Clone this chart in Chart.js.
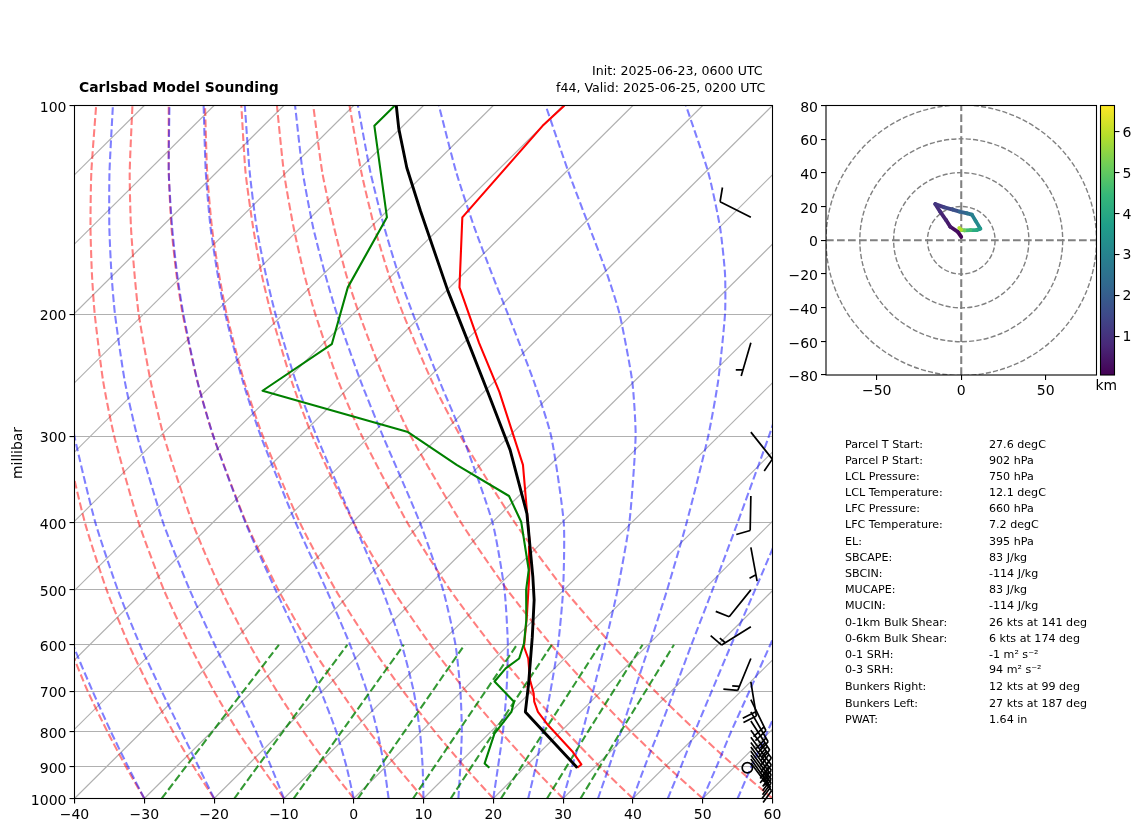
<!DOCTYPE html>
<html><head><meta charset="utf-8">
<style>
html,body{margin:0;padding:0;background:#fff;width:1142px;height:832px;overflow:hidden}
canvas{position:absolute;left:0;top:0}
.t{position:absolute;font-family:"DejaVu Sans";color:#000;white-space:pre;line-height:16px}
</style>
<script src="https://cdn.jsdelivr.net/npm/chart.js@4/dist/chart.umd.min.js"></script>
</head><body>
<canvas id="main" width="1142" height="832"></canvas>
<canvas id="hodo" width="1142" height="832"></canvas>
<canvas id="cbar" width="1142" height="832"></canvas>
<div id="texts"></div>
<script>
// ---------- sounding profiles (pressure in hPa, temperature in degC)
const tempP=[100,107,145,183,220,259,330,433,484,547,604,628,675,705,725,750,784,857,893,903];
const tempT=[-69.8,-70,-68.3,-58.6,-47.8,-37.8,-23.9,-11.1,-6.4,-1.4,2.5,4.8,8.2,10.6,11.9,13.9,17.3,24.7,27.7,27.6];
const dewP=[100,107,145,183,221,258,296,330,366,399,468,500,553,597,628,649,678,725,750,806,890,903];
const dewT=[-94.1,-94.1,-79.1,-74.6,-68.7,-71.9,-45.1,-33.4,-21.4,-15.9,-7.9,-5.4,-1,2,3.5,3,3.3,9,10.1,10.8,13.7,15];
const parcelP=[100,108,123,142,185,223,258,314,388,479,517,585,683,750,903];
const parcelT=[-93.9,-90.2,-83.4,-75.2,-59.8,-48.5,-39.7,-27.9,-16.3,-6.3,-2.8,2.3,8.5,12.1,27.6];
// ---------- reference curves
const xTicks=[-40,-30,-20,-10,0,10,20,30,40,50,60];
const pTicks=[100,200,300,400,500,600,700,800,900,1000];
const isotherms=[-130,-120,-110,-100,-90,-80,-70,-60,-50,-40,-30,-20,-10,0,10,20,30,40,50,60];
const curveP=[1000,900,800,700,600,500,400,300,250,200,175,150,125,100];
const dryCurves=[
[-30,-37.2,-45,-53.6,-63,-73.7,-86,-100.8,-109.5,-119.6,-125.4,-131.7,-138.9,-147.2],
[-20,-27.5,-35.6,-44.5,-54.4,-65.5,-78.3,-93.7,-102.8,-113.3,-119.3,-125.9,-133.4,-142],
[-10,-17.8,-26.3,-35.5,-45.7,-57.3,-70.6,-86.6,-96.1,-107,-113.2,-120.1,-127.9,-136.9],
[0,-8.1,-16.9,-26.5,-37.1,-49.1,-62.9,-79.5,-89.3,-100.7,-107.1,-114.3,-122.4,-131.7],
[10,1.6,-7.5,-17.4,-28.5,-40.9,-55.2,-72.4,-82.6,-94.4,-101.1,-108.5,-116.8,-126.5],
[20,11.3,1.9,-8.4,-19.8,-32.7,-47.5,-65.3,-75.9,-88.1,-95,-102.7,-111.3,-121.3],
[30,21,11.3,.6,-11.2,-24.5,-39.8,-58.2,-69.1,-81.7,-88.9,-96.8,-105.8,-116.1],
[40,30.7,20.7,9.7,-2.5,-16.3,-32.1,-51.1,-62.4,-75.4,-82.8,-91,-100.3,-111],
[50,40.4,30,18.7,6.1,-8.1,-24.4,-44.1,-55.7,-69.1,-76.8,-85.2,-94.8,-105.8],
[60,50.1,39.4,27.7,14.8,.1,-16.7,-37,-49,-62.8,-70.7,-79.4,-89.2,-100.6]];
const moistCurves=[
[-30,-36.9,-44.5,-52.9,-62.4,-73,-85.4,-100.2,-109,-119.1,-124.9,-131.3,-138.5,-146.8],
[-20,-26.8,-34.4,-43,-52.8,-63.9,-76.8,-92.3,-101.5,-112.1,-118.1,-124.8,-132.3,-141],
[-10,-16.4,-23.7,-32.2,-42.1,-53.6,-67.1,-83.3,-93,-104.1,-110.4,-117.4,-125.3,-134.5],
[0,-5.6,-12.2,-20.2,-29.7,-41.3,-55.3,-72.4,-82.6,-94.3,-101,-108.4,-116.8,-126.4],
[5,-.2,-6.3,-13.6,-22.7,-34,-48.1,-65.6,-76.1,-88.3,-95.2,-102.9,-111.5,-121.5],
[10,5.3,-.2,-6.9,-15.3,-26,-39.8,-57.6,-68.5,-81.1,-88.3,-96.3,-105.2,-115.6],
[15,10.7,5.8,-.2,-7.6,-17.3,-30.3,-48.1,-59.2,-72.3,-79.8,-88.2,-97.6,-108.4],
[20,16.1,11.7,6.4,-.1,-8.5,-19.9,-36.7,-47.9,-61.4,-69.3,-78,-87.9,-99.4],
[25,21.5,17.4,12.7,7.1,-.1,-9.7,-24,-34.4,-47.8,-55.9,-65.1,-75.6,-87.8],
[30,26.7,23.1,18.8,13.8,7.7,-.3,-11.9,-20.3,-31.8,-39.4,-48.6,-59.5,-72.5],
[35,32,28.6,24.7,20.2,14.8,7.9,-1.5,-8,-16.7,-22.5,-29.9,-39.5,-52.4],
[40,37.1,34,30.4,26.2,21.3,15.2,7.2,1.9,-4.8,-9,-14.2,-21,-30.3],
[45,42.3,39.2,35.8,31.9,27.4,21.8,14.6,10.1,4.4,1,-3,-7.9,-14.3],
[50,47.4,44.4,41.2,37.5,33.1,27.9,21.2,17.1,12,9,5.6,1.4,-3.6],
[55,52.4,49.6,46.4,42.8,38.6,33.6,27.3,23.3,18.6,15.8,12.7,8.9,4.4]];
const mixP=[1000,800,600];
const mixCurves=[[-27.5,-29.9,-32.9],[-17.1,-19.8,-23.1],[-8.6,-11.4,-15],[.6,-2.4,-6.3],[8.5,5.3,1.2],[13.9,10.5,6.2],[21.1,17.6,13.1],[27.7,23.9,19.2],[32.5,28.6,23.7]];
// ---------- wind barbs (knots)
const barbP=[145,220,296,366,434,500,565,628,679,720,750,773,797,816,830,843,855,866,877,889,903];
const barbU=[8.9,1.4,-6.2,.2,-.9,6.3,12.7,5.7,-3.2,-9,-11,-13,-15.4,-14,-12.5,-11,-9.5,-8,-7,-6,0];
const barbV=[-4.5,4.8,7.8,10,4.9,7.8,8,13.9,19.7,18.5,19,20,20.8,19,17,15,13,11,10,8,0];
// ---------- hodograph
const hodoU=[0,-2,-6.5,-9,-12.5,-15.4,-10,-5,-1,3.5,6.3,8.5,11.3,9,5.5,1.9,0,-1.2];
const hodoV=[2,5,8,12,17,21.5,19.5,18.2,17,16,15.2,11.5,6.9,6,6,5.9,6.2,7.3];
const hodoH=[.1,.3,.5,.7,.9,1.1,1.4,1.7,2.1,2.5,2.9,3.2,3.6,4.1,4.6,5.2,5.9,6.5];
const hodoRings=[20,40,60,80];
const hodoXTicks=[-50,0,50];
const hodoYTicks=[-80,-60,-40,-20,0,20,40,60,80];
const cbarTicks=[1,2,3,4,5,6];
const viridis=['#440154','#482878','#3e4989','#31688e','#26828e','#1f9e89','#35b779','#6ece58','#b5de2b','#fde725'];
// ---------- text
const titleText='Carlsbad Model Sounding';
const initText='Init: 2025-06-23, 0600 UTC';
const validText='f44, Valid: 2025-06-25, 0200 UTC';
const statNames=['Parcel T Start:','Parcel P Start:','LCL Pressure:','LCL Temperature:','LFC Pressure:','LFC Temperature:','EL:','SBCAPE:','SBCIN:','MUCAPE:','MUCIN:','0-1km Bulk Shear:','0-6km Bulk Shear:','0-1 SRH:','0-3 SRH:','Bunkers Right:','Bunkers Left:','PWAT:'];
const statValues=['27.6 degC','902 hPa','750 hPa','12.1 degC','660 hPa','7.2 degC','395 hPa','83 J/kg','-114 J/kg','83 J/kg','-114 J/kg','26 kts at 141 deg','6 kts at 174 deg','-1 m\u00b2 s\u207b\u00b2','94 m\u00b2 s\u207b\u00b2','12 kts at 99 deg','27 kts at 187 deg','1.64 in'];
const statY=[445,460.7,476.7,492.7,508.7,525,541.7,557.7,573.7,590,606.4,623,638.7,654.5,669.8,687,703.7,720];

Chart.defaults.font.family='"DejaVu Sans"';
Chart.defaults.color='#000';
Chart.defaults.animation=false;
const minus=v=>String(v).replace('-','\u2212');
const skew=(t,p)=>t+100*Math.log10(1000/p);
const nudge=s=>{const orig=s._computeLabelItems;s._computeLabelItems=function(a){const items=orig.call(this,a);items.forEach(it=>{it.options.translation[1]+=1.3;});return items;};};
const line=(ps,ts,color,width,dash,order,tension)=>({type:'scatter',showLine:true,data:ps.map((p,i)=>({x:skew(ts[i],p),y:p})),
  borderColor:color,borderWidth:width,borderDash:dash||[],order,pointRadius:0,tension:tension||0,capBezierPoints:false,clip:0,fill:false,borderCapStyle:'butt',borderJoinStyle:'round'});
const DASH=[7.7,3.3];
const datasets=[];
isotherms.forEach(t=>datasets.push(line([1000,100],[t,t],'#b0b0b0',1.1,null,9)));
dryCurves.forEach(c=>datasets.push(line(curveP,c,'rgba(255,0,0,.5)',2.08,DASH,7,.2)));
moistCurves.forEach(c=>datasets.push(line(curveP,c,'rgba(0,0,255,.5)',2.08,DASH,6,.2)));
mixCurves.forEach(c=>datasets.push(line(mixP,c,'rgba(0,128,0,.8)',2.08,DASH,5,.15)));
datasets.push(line(tempP,tempT,'#ff0000',2.08,null,3));
datasets.push(line(dewP,dewT,'#008000',2.08,null,2));
datasets.push(line(parcelP,parcelT,'#000000',2.9,null,1));

const frame={id:'frame',afterDraw(c){const a=c.chartArea,g=c.ctx;g.save();g.strokeStyle='#000';g.lineWidth=1.1;g.strokeRect(a.left,a.top,a.right-a.left,a.bottom-a.top);g.restore();}};
const barbs={id:'barbs',afterDatasetsDraw(c){
  const g=c.ctx,L=34.5,px=c.scales.x.getPixelForValue(56.9);
  g.save();g.strokeStyle='#000';g.lineWidth=1.7;g.lineCap='butt';g.lineJoin='miter';
  barbP.forEach((p,i)=>{
    const py=c.scales.y.getPixelForValue(p),u=barbU[i],v=barbV[i],sp=Math.hypot(u,v);
    const n=Math.round(sp/5)*5;
    if(n===0){g.beginPath();g.arc(px-3.5,py,.15*L,0,7);g.stroke();return;}
    const hx=-u/sp,hy=v/sp,rx=-hy,ry=hx;
    g.beginPath();g.moveTo(px,py);g.lineTo(px+hx*L,py+hy*L);
    let off=L,full=Math.floor(n/10),half=(n%10)>=5;
    for(let k=0;k<full;k++){const bx=px+hx*off,by=py+hy*off;g.moveTo(bx,by);g.lineTo(bx+rx*.4*L+hx*.125*L,by+ry*.4*L+hy*.125*L);off-=.125*L;}
    if(half){if(off===L)off-=.1875*L;const bx=px+hx*off,by=py+hy*off;g.moveTo(bx,by);g.lineTo(bx+rx*.2*L+hx*.0625*L,by+ry*.2*L+hy*.0625*L);}
    g.stroke();
  });
  g.restore();}};

new Chart(document.getElementById('main'),{type:'scatter',data:{datasets},plugins:[frame,barbs],options:{
  responsive:false,devicePixelRatio:1,
  layout:{padding:{left:8.5,right:369.5,top:105.5,bottom:3.5}},
  plugins:{legend:{display:false},tooltip:{enabled:false},title:{display:false}},
  scales:{
    x:{type:'linear',min:-40,max:60,afterBuildTicks(s){s.ticks=xTicks.map(value=>({value}));},afterFit(s){s.height=30;},
       grid:{drawOnChartArea:false,color:'#000',tickLength:5,lineWidth:1.1},border:{display:false},
       ticks:{font:{size:14},padding:3,maxRotation:0,autoSkip:false,callback:minus}},
    y:{type:'logarithmic',min:100,max:1000,reverse:true,afterBuildTicks(s){s.ticks=pTicks.map(value=>({value}));},afterFit(s){s.width=66;nudge(s);},
       grid:{color:'#b0b0b0',lineWidth:1.1,tickLength:5,tickColor:'#000'},border:{display:false},
       ticks:{font:{size:14},padding:3,autoSkip:false,callback:v=>String(v)}}
  }}});

const rings={id:'rings',beforeDatasetsDraw(c){const g=c.ctx,a=c.chartArea,cx=c.scales.x.getPixelForValue(0),cy=c.scales.y.getPixelForValue(0);
  g.save();g.beginPath();g.rect(a.left,a.top,a.right-a.left,a.bottom-a.top);g.clip();g.strokeStyle='#808080';g.lineWidth=1.4;g.setLineDash([5.1,2.2]);
  hodoRings.forEach(r=>{const R=c.scales.x.getPixelForValue(r)-cx;g.beginPath();g.arc(cx,cy,R,0,Math.PI*2);g.stroke();});g.restore();}};
const viridisAt=h=>{const t=Math.max(0,Math.min(1,(h-.05)/6.6))*(viridis.length-1),i=Math.floor(t),f=t-i,a=viridis[i],b=viridis[Math.min(i+1,viridis.length-1)];
  const ch=(s,o)=>parseInt(s.substr(o,2),16);const m=o=>Math.round(ch(a,o)+(ch(b,o)-ch(a,o))*f);return `rgb(${m(1)},${m(3)},${m(5)})`;};
const gray={borderColor:'#808080',borderWidth:2.08,borderDash:DASH,pointRadius:0,showLine:true,clip:0};
new Chart(document.getElementById('hodo'),{type:'scatter',data:{datasets:[
  {data:hodoU.map((u,i)=>({x:u,y:hodoV[i]})),showLine:true,pointRadius:0,borderWidth:3.8,borderCapStyle:'round',borderJoinStyle:'round',order:1,clip:0,
   borderColor:viridisAt(1),segment:{borderColor:s=>viridisAt(hodoH[s.p0DataIndex])}},
  {data:[{x:-80,y:0},{x:80,y:0}],order:2,...gray},
  {data:[{x:0,y:-80},{x:0,y:80}],order:2,...gray}]},plugins:[rings,frame],options:{
  responsive:false,devicePixelRatio:1,
  layout:{padding:{left:776,right:45.5,top:105.5,bottom:427}},
  plugins:{legend:{display:false},tooltip:{enabled:false}},
  scales:{
    x:{type:'linear',min:-80,max:80,afterBuildTicks(s){s.ticks=hodoXTicks.map(value=>({value}));},afterFit(s){s.height=30;},
       grid:{drawOnChartArea:false,color:'#000',tickLength:5,lineWidth:1.1},border:{display:false},
       ticks:{font:{size:14},padding:3,maxRotation:0,autoSkip:false,callback:minus}},
    y:{type:'linear',min:-80,max:80,afterBuildTicks(s){s.ticks=hodoYTicks.map(value=>({value}));},afterFit(s){s.width=50;nudge(s);},
       grid:{drawOnChartArea:false,color:'#000',tickLength:5,lineWidth:1.1},border:{display:false},
       ticks:{font:{size:14},padding:3,autoSkip:false,callback:minus}}
  }}});

const gradient={id:'gradient',beforeDatasetsDraw(c){const g=c.ctx,a=c.chartArea,lg=g.createLinearGradient(0,a.bottom,0,a.top);
  viridis.forEach((col,i)=>lg.addColorStop(i/(viridis.length-1),col));g.save();g.fillStyle=lg;g.fillRect(a.left,a.top,a.right-a.left,a.bottom-a.top);g.restore();}};
new Chart(document.getElementById('cbar'),{type:'scatter',data:{datasets:[{data:[]}]},plugins:[gradient,frame],options:{
  responsive:false,devicePixelRatio:1,
  layout:{padding:{left:1100.5,right:0,top:105.5,bottom:457}},
  plugins:{legend:{display:false},tooltip:{enabled:false}},
  scales:{
    x:{display:false,min:0,max:1},
    y:{type:'linear',position:'right',min:.05,max:6.65,afterBuildTicks(s){s.ticks=cbarTicks.map(value=>({value}));},afterFit(s){s.width=27.5;nudge(s);},
       grid:{drawOnChartArea:false,color:'#000',tickLength:5,lineWidth:1.1},border:{display:false},
       ticks:{font:{size:14},padding:3,autoSkip:false,callback:v=>String(v)}}
  }}});

const box=document.getElementById('texts');
const put=(s,x,cy,size,extra)=>{const d=document.createElement('div');d.className='t';d.textContent=s;d.style.left=x+'px';d.style.top=(cy-8)+'px';d.style.fontSize=size+'px';if(extra)d.style.fontWeight=extra;box.appendChild(d);return d;};
put(titleText,79,86.7,13.9,'bold');
put(initText,592,70.5,12.6);
put(validText,556,88,12.6);
put('km',1095.5,384.5,13.9);
const yl=put('millibar',16.5,453,13.9);yl.style.transform='translate(-50%,0) rotate(-90deg)';yl.style.transformOrigin='50% 50%';
statNames.forEach((s,i)=>{put(s,845,statY[i],11.1);put(statValues[i],989,statY[i],11.1);});
</script>
</body></html>
